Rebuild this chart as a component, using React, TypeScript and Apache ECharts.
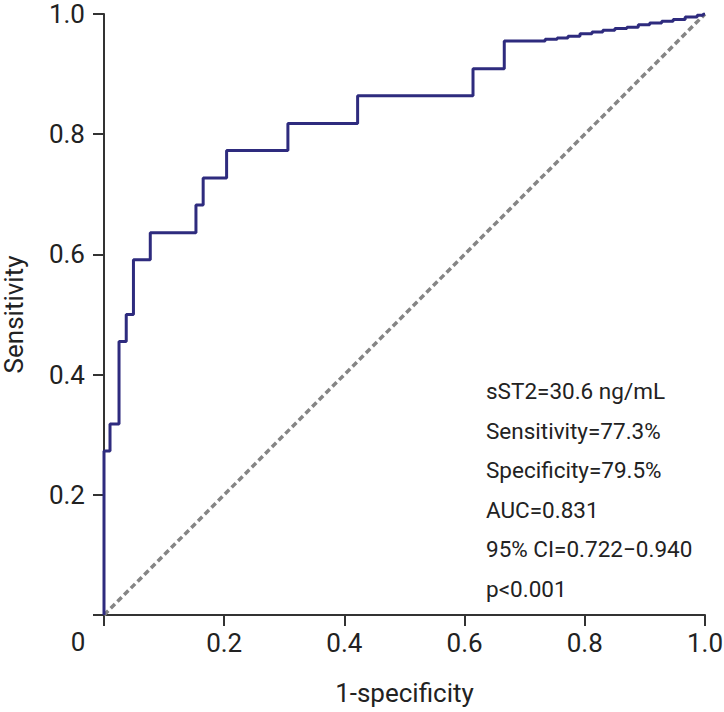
import React, { useEffect, useRef } from "react";
import * as echarts from "echarts";

// ROC curve corner points (1-specificity, sensitivity); step: horizontal then vertical
const fpr = [
  0, 0, 0.010, 0.025, 0.037, 0.049, 0.077, 0.153, 0.165, 0.204, 0.306, 0.422,
  0.614, 0.666, 0.734, 0.754, 0.772, 0.792, 0.812, 0.830, 0.850, 0.870, 0.889,
  0.908, 0.928, 0.947, 0.967, 0.987, 0.997, 1.0,
];
const tpr = [
  0, 0.273, 0.318, 0.455, 0.5, 0.591, 0.636, 0.682, 0.727, 0.773, 0.818, 0.864,
  0.909, 0.955, 0.958, 0.960, 0.963, 0.967, 0.970, 0.973, 0.976, 0.978, 0.982,
  0.985, 0.988, 0.991, 0.995, 0.998, 1.0, 1.0,
];
const refX = [0, 1];
const refY = [0, 1];
const annotations = [
  "sST2=30.6 ng/mL",
  "Sensitivity=77.3%",
  "Specificity=79.5%",
  "AUC=0.831",
  "95% CI=0.722\u22120.940",
  "p<0.001",
];
const originLabel = "0";

const FONT = "Roboto, 'Noto Sans', sans-serif";

export default function App() {
  const ref = useRef<HTMLDivElement>(null);
  useEffect(() => {
    if (!ref.current) return;
    const chart = echarts.init(ref.current, null, { renderer: "svg" });
    const axisLine = { show: true, lineStyle: { color: "#333", width: 2 } };
    const axisTick = { show: true, length: 11, lineStyle: { color: "#333", width: 2 } };
    chart.setOption({
      animation: false,
      backgroundColor: "#fff",
      grid: {
        left: 104,
        right: 19,
        top: 14,
        bottom: 97,
        containLabel: false,
        outerBoundsMode: "none",
      },
      xAxis: {
        type: "value",
        min: 0,
        max: 1,
        interval: 0.2,
        name: "1-specificity",
        nameLocation: "middle",
        nameGap: 65,
        nameTextStyle: { fontFamily: FONT, fontSize: 26, color: "#222" },
        axisLine,
        axisTick,
        splitLine: { show: false },
        axisLabel: {
          margin: 15,
          fontFamily: FONT,
          fontSize: 26,
          color: "#222",
          formatter: (v: number) => (v === 0 ? "" : v.toFixed(1)),
        },
      },
      yAxis: {
        type: "value",
        min: 0,
        max: 1,
        interval: 0.2,
        name: "Sensitivity",
        nameLocation: "middle",
        nameGap: 77,
        nameRotate: 90,
        nameTextStyle: { fontFamily: FONT, fontSize: 26, color: "#222" },
        axisLine,
        axisTick,
        splitLine: { show: false },
        axisLabel: {
          margin: 19,
          fontFamily: FONT,
          fontSize: 26,
          color: "#222",
          formatter: (v: number) => (v === 0 ? "" : v.toFixed(1)),
        },
      },
      graphic: [
        {
          type: "text",
          x: 78,
          y: 642,
          style: {
            text: originLabel,
            fontFamily: FONT,
            fontSize: 26,
            fill: "#222",
            align: "center",
            verticalAlign: "middle",
          },
        },
        ...annotations.map((t, i) => ({
          type: "text",
          x: 486,
          y: 391 + i * 39.6,
          style: {
            text: t,
            fontFamily: FONT,
            fontSize: 22.5,
            fill: "#222",
            align: "left",
            verticalAlign: "middle",
          },
        })),
      ],
      series: [
        {
          type: "line",
          data: refX.map((x, i) => [x, refY[i]]),
          symbol: "none",
          lineStyle: { color: "#858585", width: 3.5, type: [6, 3.5] },
          z: 1,
        },
        {
          type: "line",
          step: "end",
          data: fpr.map((x, i) => [x, tpr[i]]),
          symbol: "none",
          lineStyle: { color: "#2e2b7e", width: 3 },
          z: 2,
        },
      ],
    });
    return () => chart.dispose();
  }, []);
  return (
    <div
      ref={ref}
      style={{ position: "absolute", left: 0, top: 0, width: 724, height: 712 }}
    />
  );
}
